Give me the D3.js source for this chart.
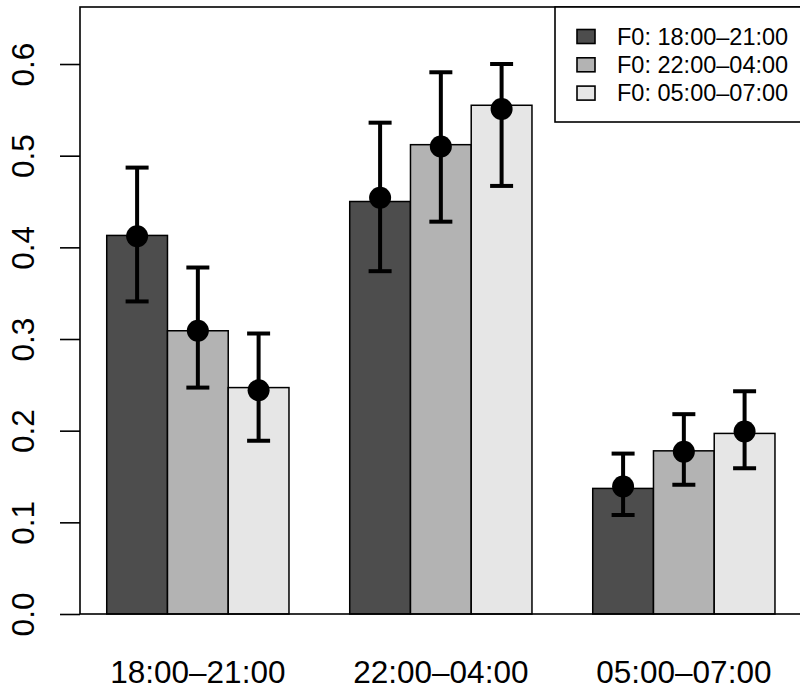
<!DOCTYPE html>
<html>
<head>
<meta charset="utf-8">
<script src="https://cdn.jsdelivr.net/npm/d3@7"></script>
<style>
html,body{margin:0;padding:0;background:#fff;}
svg{display:block;font-family:"Liberation Sans",Arial,sans-serif;}
</style>
</head>
<body>
<svg id="chart" width="800" height="690"></svg>
<script>
// ---- data ----
const groups = ["18:00\u201321:00", "22:00\u201304:00", "05:00\u201307:00"];
const seriesNames = ["F0: 18:00\u201321:00", "F0: 22:00\u201304:00", "F0: 05:00\u201307:00"];
const seriesColors = ["#4d4d4d", "#b3b3b3", "#e6e6e6"];
// bar heights, per series (rows) across groups (cols)
const barValues = [
  [0.413, 0.450, 0.137],
  [0.309, 0.512, 0.178],
  [0.247, 0.555, 0.197]
];
// point estimates
const pointValues = [
  [0.412, 0.454, 0.139],
  [0.309, 0.510, 0.177],
  [0.244, 0.551, 0.199]
];
const lowerValues = [
  [0.341, 0.374, 0.108],
  [0.247, 0.428, 0.141],
  [0.189, 0.467, 0.159]
];
const upperValues = [
  [0.487, 0.536, 0.175],
  [0.378, 0.591, 0.218],
  [0.306, 0.600, 0.243]
];
const yTicks = [0.0, 0.1, 0.2, 0.3, 0.4, 0.5, 0.6];

// ---- layout ----
const svg = d3.select("#chart");
const nS = seriesNames.length, nG = groups.length;
// R barplot units: bars occupy [1 + g*(nS+1) + s, +1]
const xMin = 1 - 0.04 * (nG * (nS + 1) - 1), xMax = nG * (nS + 1) + 0.04 * (nG * (nS + 1) - 1);
const x = d3.scaleLinear().domain([xMin, xMax]).range([80, 801.7]);
const y = d3.scaleLinear().domain([0, 0.6622]).range([614, 7]);

const barLeft = (g, s) => 1 + g * (nS + 1) + s;

// bars
const cells = [];
for (let s = 0; s < nS; s++) for (let g = 0; g < nG; g++) {
  cells.push({s, g, bar: barValues[s][g], pt: pointValues[s][g], lo: lowerValues[s][g], hi: upperValues[s][g]});
}
svg.append("g").selectAll("rect").data(cells).join("rect")
  .attr("x", d => x(barLeft(d.g, d.s)))
  .attr("width", d => x(barLeft(d.g, d.s) + 1) - x(barLeft(d.g, d.s)))
  .attr("y", d => y(d.bar))
  .attr("height", d => y(0) - y(d.bar))
  .attr("fill", d => seriesColors[d.s])
  .attr("stroke", "#000").attr("stroke-width", 1.5);

// error bars
const eb = svg.append("g").attr("stroke", "#000").attr("stroke-width", 4);
const cx = d => x(barLeft(d.g, d.s) + 0.5);
eb.selectAll("line.v").data(cells).join("line").attr("class", "v")
  .attr("x1", cx).attr("x2", cx).attr("y1", d => y(d.lo)).attr("y2", d => y(d.hi));
eb.selectAll("line.ct").data(cells).join("line").attr("class", "ct")
  .attr("x1", d => cx(d) - 11.5).attr("x2", d => cx(d) + 11.5)
  .attr("y1", d => y(d.hi)).attr("y2", d => y(d.hi));
eb.selectAll("line.cb").data(cells).join("line").attr("class", "cb")
  .attr("x1", d => cx(d) - 11.5).attr("x2", d => cx(d) + 11.5)
  .attr("y1", d => y(d.lo)).attr("y2", d => y(d.lo));
svg.append("g").selectAll("circle").data(cells).join("circle")
  .attr("cx", cx).attr("cy", d => y(d.pt)).attr("r", 11).attr("fill", "#000");

// box (plot frame)
svg.append("rect")
  .attr("x", x(xMin)).attr("y", y(0.6622))
  .attr("width", x(xMax) - x(xMin)).attr("height", y(0) - y(0.6622))
  .attr("fill", "none").attr("stroke", "#000").attr("stroke-width", 1.6);

// y axis
const yAxis = d3.axisLeft(y).tickValues(yTicks).tickSize(20).tickFormat(d3.format(".1f"));
const ya = svg.append("g").attr("transform", `translate(${x(xMin)},0)`).call(yAxis);
ya.select(".domain").remove();
ya.selectAll(".tick line").attr("stroke", "#000").attr("stroke-width", 1.6);
ya.selectAll(".tick text")
  .attr("x", 0).attr("y", 0).attr("dy", null)
  .attr("transform", "translate(-46.5,0) rotate(-90)")
  .attr("text-anchor", "middle")
  .attr("font-size", 31.5)
  .attr("font-family", "Liberation Sans, Arial, sans-serif")
  .attr("fill", "#000");

// x labels
svg.append("g").selectAll("text").data(groups).join("text")
  .attr("x", (d, g) => x(barLeft(g, 0) + nS / 2))
  .attr("y", 683)
  .attr("text-anchor", "middle")
  .attr("font-size", 31.5)
  .attr("fill", "#000")
  .text(d => d);

// legend
const lg = svg.append("g");
lg.append("rect").attr("x", 555).attr("y", y(0.6622)).attr("width", x(xMax) - 555).attr("height", 122 - y(0.6622))
  .attr("fill", "#fff").attr("stroke", "#000").attr("stroke-width", 1.6);
const rowY = [36.5, 64.8, 93.1];
lg.selectAll("rect.key").data(seriesNames).join("rect").attr("class", "key")
  .attr("x", 577).attr("y", (d, i) => rowY[i] - 7).attr("width", 18).attr("height", 14)
  .attr("fill", (d, i) => seriesColors[i]).attr("stroke", "#000").attr("stroke-width", 1.6);
lg.selectAll("text").data(seriesNames).join("text")
  .attr("x", 617).attr("y", (d, i) => rowY[i] + 8.3)
  .attr("font-size", 23.5).attr("fill", "#000")
  .text(d => d);
</script>
</body>
</html>
